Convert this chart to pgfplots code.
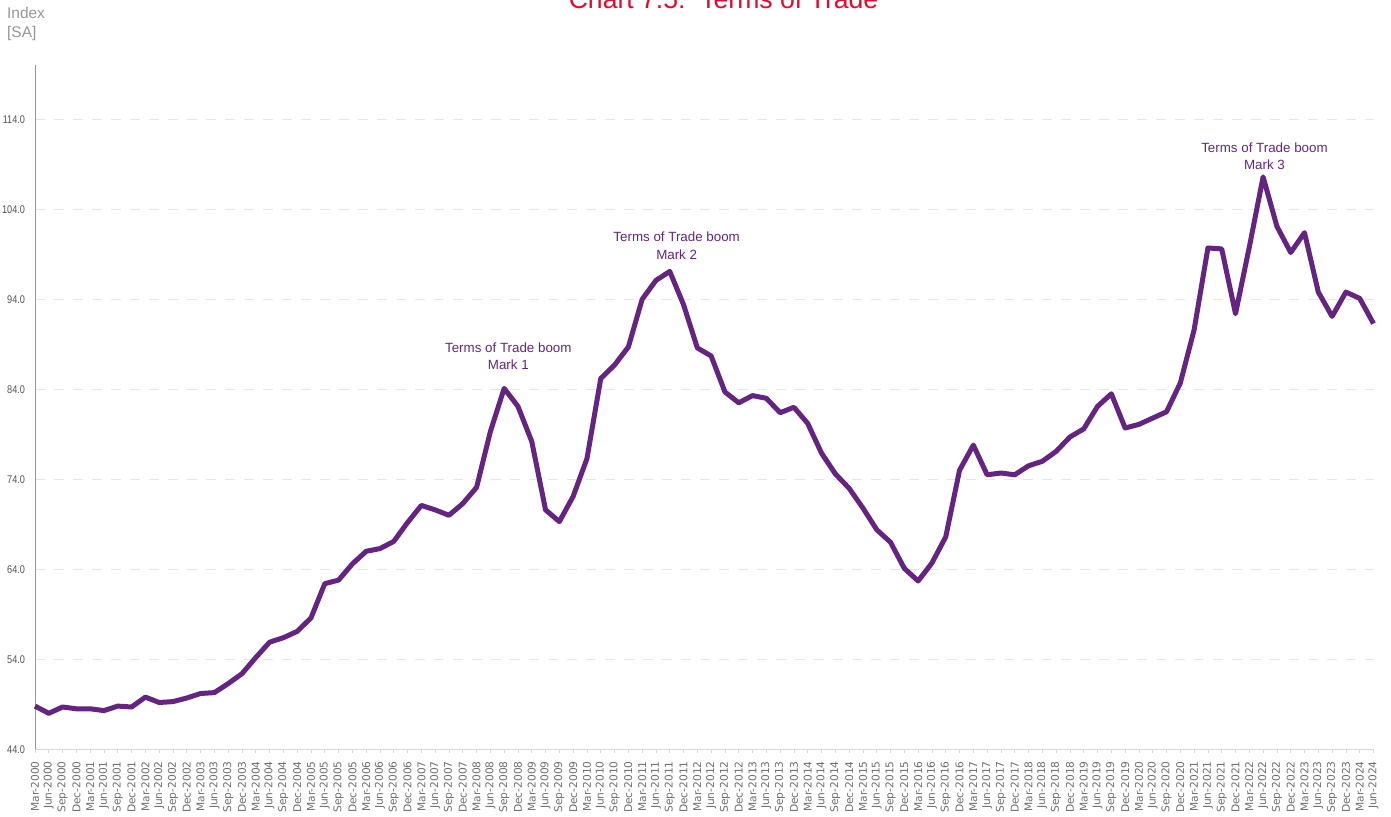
\documentclass[border=0pt]{standalone}
\usepackage{fontspec}
\setmainfont{Liberation Sans}
\newfontfamily\ytickfont[FakeStretch=0.82]{Liberation Sans}
\newfontfamily\xtickfont{DejaVu Sans}
\usepackage{pgfplots}
\usepackage{pgfplotstable}
\pgfplotsset{compat=1.18}

\definecolor{totline}{RGB}{102,36,130}
\definecolor{titlered}{RGB}{228,10,45}
\definecolor{gridgray}{RGB}{230,230,230}
\definecolor{xaxisgray}{RGB}{215,215,215}
\definecolor{yaxisgray}{RGB}{150,150,150}
\definecolor{labelgray}{RGB}{110,110,110}
\definecolor{ylabgray}{RGB}{85,85,85}
\definecolor{unitgray}{RGB}{150,150,150}

\pgfplotstableread{
date val
Mar-2000 48.8
Jun-2000 48.0
Sep-2000 48.7
Dec-2000 48.5
Mar-2001 48.5
Jun-2001 48.3
Sep-2001 48.8
Dec-2001 48.7
Mar-2002 49.8
Jun-2002 49.2
Sep-2002 49.3
Dec-2002 49.7
Mar-2003 50.2
Jun-2003 50.3
Sep-2003 51.3
Dec-2003 52.4
Mar-2004 54.2
Jun-2004 55.9
Sep-2004 56.4
Dec-2004 57.1
Mar-2005 58.6
Jun-2005 62.4
Sep-2005 62.8
Dec-2005 64.6
Mar-2006 66.0
Jun-2006 66.3
Sep-2006 67.1
Dec-2006 69.2
Mar-2007 71.1
Jun-2007 70.6
Sep-2007 70.0
Dec-2007 71.3
Mar-2008 73.1
Jun-2008 79.3
Sep-2008 84.1
Dec-2008 82.1
Mar-2009 78.2
Jun-2009 70.6
Sep-2009 69.3
Dec-2009 72.1
Mar-2010 76.3
Jun-2010 85.2
Sep-2010 86.7
Dec-2010 88.7
Mar-2011 94.0
Jun-2011 96.1
Sep-2011 97.1
Dec-2011 93.4
Mar-2012 88.6
Jun-2012 87.7
Sep-2012 83.7
Dec-2012 82.5
Mar-2013 83.3
Jun-2013 83.0
Sep-2013 81.4
Dec-2013 82.0
Mar-2014 80.2
Jun-2014 76.9
Sep-2014 74.6
Dec-2014 73.0
Mar-2015 70.8
Jun-2015 68.4
Sep-2015 67.0
Dec-2015 64.1
Mar-2016 62.7
Jun-2016 64.7
Sep-2016 67.6
Dec-2016 75.0
Mar-2017 77.8
Jun-2017 74.5
Sep-2017 74.7
Dec-2017 74.5
Mar-2018 75.5
Jun-2018 76.0
Sep-2018 77.1
Dec-2018 78.7
Mar-2019 79.6
Jun-2019 82.1
Sep-2019 83.5
Dec-2019 79.7
Mar-2020 80.1
Jun-2020 80.8
Sep-2020 81.5
Dec-2020 84.7
Mar-2021 90.6
Jun-2021 99.7
Sep-2021 99.6
Dec-2021 92.4
Mar-2022 99.8
Jun-2022 107.6
Sep-2022 102.1
Dec-2022 99.2
Mar-2023 101.4
Jun-2023 94.8
Sep-2023 92.1
Dec-2023 94.8
Mar-2024 94.1
Jun-2024 91.3
}\totdata

\begin{document}
\begin{tikzpicture}[x=1bp,y=1bp]
\useasboundingbox (-35,-66.7) rectangle (1356,749.3);
\begin{axis}[
  at={(0,0)}, anchor=south west,
  scale only axis,
  width=1338.6bp, height=684bp,
  xmin=0, xmax=97, ymin=44, ymax=120,
  axis lines=left,
  x axis line style={-, draw=xaxisgray, line width=1bp},
  y axis line style={-, draw=yaxisgray, line width=1bp},
  xtick={0,...,97},
  xticklabels from table={\totdata}{date},
  ytick={44,54,64,74,84,94,104,114},
  ymajorgrids,
  grid style={draw=gridgray, line width=1.2bp, dash pattern=on 10bp off 9bp},
  tick align=outside,
  major tick length=3.5bp,
  xtick style={draw=xaxisgray, line width=0.8bp},
  ytick style={draw=none},
  x tick label style={rotate=90, anchor=east, font=\xtickfont\fontsize{10.7}{12}\selectfont, text=labelgray},
  xticklabel shift=5bp,
  y tick label style={font=\ytickfont\fontsize{11.2}{12}\selectfont, text=ylabgray,
    /pgf/number format/.cd, fixed, fixed zerofill, precision=1, assume math mode=true},
  yticklabel shift=3bp,
  clip=false,
]
\addplot[totline, line width=5bp, line join=round] table[x expr=\coordindex, y=val] {\totdata};

\node[anchor=base, text=totline, font=\fontsize{13.4}{15}\selectfont] at (axis cs:34.3,88.14) {Terms of Trade boom};
\node[anchor=base, text=totline, font=\fontsize{13.4}{15}\selectfont] at (axis cs:34.3,86.25) {Mark 1};
\node[anchor=base, text=totline, font=\fontsize{13.4}{15}\selectfont] at (axis cs:46.5,100.4) {Terms of Trade boom};
\node[anchor=base, text=totline, font=\fontsize{13.4}{15}\selectfont] at (axis cs:46.5,98.45) {Mark 2};
\node[anchor=base, text=totline, font=\fontsize{13.4}{15}\selectfont] at (axis cs:89.1,110.33) {Terms of Trade boom};
\node[anchor=base, text=totline, font=\fontsize{13.4}{15}\selectfont] at (axis cs:89.1,108.37) {Mark 3};
\end{axis}
\node[anchor=base, text=titlered, font=\fontsize{26.7}{30}\selectfont, inner sep=0pt] at (688.5,740.3) {Chart 7.5:\ \ Terms of Trade};
\node[anchor=base west, text=unitgray, font=\fontsize{15.5}{18}\selectfont, inner sep=0pt] at (-28,730.3) {Index};
\node[anchor=base west, text=unitgray, font=\fontsize{15.5}{18}\selectfont, inner sep=0pt] at (-28,712) {[SA]};
\end{tikzpicture}
\end{document}
